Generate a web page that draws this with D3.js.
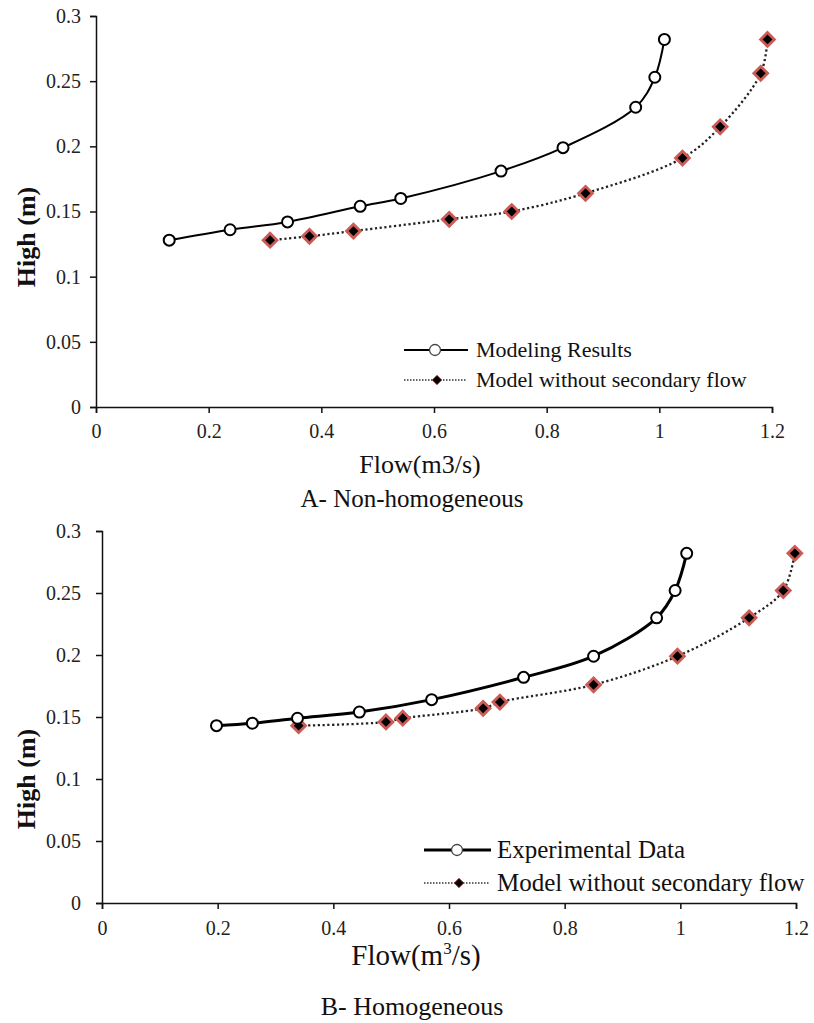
<!DOCTYPE html>
<html>
<head>
<meta charset="utf-8">
<script src="https://cdn.jsdelivr.net/npm/d3@7"></script>
<style>
html,body{margin:0;padding:0;background:#fff;}
svg{display:block;}
</style>
</head>
<body>
<svg id="chart" width="814" height="1023"></svg>
<script>
// ---------- data ----------
const xTicks = [0, 0.2, 0.4, 0.6, 0.8, 1, 1.2];
const yTicks = [0, 0.05, 0.1, 0.15, 0.2, 0.25, 0.3];

// Panel A – Non-homogeneous
const aModelX = [0.130, 0.238, 0.340, 0.469, 0.541, 0.719, 0.829, 0.958, 0.992, 1.009];
const aModelY = [0.128, 0.136, 0.142, 0.154, 0.160, 0.181, 0.199, 0.230, 0.253, 0.282];
const aNoSecX = [0.309, 0.379, 0.457, 0.627, 0.738, 0.869, 1.041, 1.108, 1.180, 1.192];
const aNoSecY = [0.128, 0.131, 0.135, 0.144, 0.150, 0.164, 0.191, 0.215, 0.256, 0.282];

// Panel B – Homogeneous
const bExpX = [0.198, 0.260, 0.338, 0.445, 0.570, 0.729, 0.850, 0.959, 0.991, 1.011];
const bExpY = [0.143, 0.145, 0.149, 0.154, 0.164, 0.182, 0.199, 0.230, 0.252, 0.282];
const bNoSecX = [0.340, 0.491, 0.520, 0.659, 0.688, 0.850, 0.995, 1.119, 1.178, 1.198];
const bNoSecY = [0.143, 0.146, 0.149, 0.157, 0.162, 0.176, 0.199, 0.230, 0.252, 0.282];

const aLegend = ["Modeling Results", "Model without secondary flow"];
const bLegend = ["Experimental Data", "Model without secondary flow"];
const aXTitle = "Flow(m3/s)";
const aCaption = "A- Non-homogeneous";
const bCaption = "B- Homogeneous";
const yTitle = "High (m)";

const SERIF = '"Liberation Serif", "Times New Roman", Tinos, serif';

// ---------- drawing ----------
const svg = d3.select("#chart");
const zip = (xs, ys) => xs.map((x, i) => ({x, y: ys[i]}));

function panel(cfg) {
  const g = svg.append("g");
  const x = d3.scaleLinear().domain([0, 1.2]).range([cfg.x0, cfg.x1]);
  const y = d3.scaleLinear().domain([0, 0.3]).range([cfg.y0, cfg.y1]);

  // axes
  const xa = g.append("g").attr("transform", `translate(0,${cfg.y0})`)
    .call(d3.axisBottom(x).tickValues(xTicks).tickFormat(d3.format("")).tickSizeOuter(0).tickSize(6).tickPadding(cfg.xPad));
  const ya = g.append("g").attr("transform", `translate(${cfg.x0},0)`)
    .call(d3.axisLeft(y).tickValues(yTicks).tickFormat(d3.format("")).tickSizeOuter(0).tickSize(6).tickPadding(cfg.yPad));
  [xa, ya].forEach(a => {
    a.attr("font-family", SERIF).attr("font-size", cfg.tickFont);
    a.select(".domain").attr("stroke", "#111").attr("stroke-width", 1.5);
    a.selectAll(".tick line").attr("stroke", "#111").attr("stroke-width", 1.5);
    a.selectAll(".tick text").style("font-family", SERIF).style("font-size", cfg.tickFont + "px").attr("fill", "#222");
  });

  const line = d3.line().x(d => x(d.x)).y(d => y(d.y)).curve(d3.curveCatmullRom.alpha(0.5));

  const s1 = zip(cfg.s1x, cfg.s1y), s2 = zip(cfg.s2x, cfg.s2y);

  g.append("path").datum(s2).attr("d", line).attr("fill", "none")
    .attr("stroke", "#222").attr("stroke-width", 2.3).attr("stroke-dasharray", "2.2,2.6");
  g.append("path").datum(s1).attr("d", line).attr("fill", "none")
    .attr("stroke", "#000").attr("stroke-width", cfg.solidW);

  const diamond = d3.symbol().type(d3.symbolSquare).size(95);
  g.selectAll(".dia").data(s2).join("path")
    .attr("d", diamond)
    .attr("transform", d => `translate(${x(d.x)},${y(d.y)}) rotate(45)`)
    .attr("fill", "#000").attr("stroke", "#cc5a55").attr("stroke-width", 2.8);
  g.selectAll(".circ").data(s1).join("circle")
    .attr("cx", d => x(d.x)).attr("cy", d => y(d.y)).attr("r", 5.5)
    .attr("fill", "#fff").attr("stroke", "#000").attr("stroke-width", 2);

  // legend
  const L = cfg.legend;
  g.append("line").attr("x1", L.lx0).attr("x2", L.lx1).attr("y1", L.y1).attr("y2", L.y1)
    .attr("stroke", "#000").attr("stroke-width", cfg.solidW);
  g.append("circle").attr("cx", L.cx).attr("cy", L.y1).attr("r", 5.5)
    .attr("fill", "#fff").attr("stroke", "#444").attr("stroke-width", 1.3);
  g.append("line").attr("x1", L.lx0).attr("x2", L.lx1 - 2).attr("y1", L.y2).attr("y2", L.y2)
    .attr("stroke", "#333").attr("stroke-width", 1.5).attr("stroke-dasharray", "1.5,1.5");
  g.append("path").attr("d", d3.symbol().type(d3.symbolSquare).size(45))
    .attr("transform", `translate(${L.cx + 2},${L.y2}) rotate(45)`)
    .attr("fill", "#000").attr("stroke", "#a33").attr("stroke-width", 0.8);
  g.append("text").attr("x", L.tx).attr("y", L.y1).attr("dy", "0.33em")
    .style("font-family", SERIF).attr("fill", "#111")
    .attr("font-size", L.font).text(cfg.legendText[0]);
  g.append("text").attr("x", L.tx).attr("y", L.y2).attr("dy", "0.33em")
    .style("font-family", SERIF).attr("fill", "#111")
    .attr("font-size", L.font).text(cfg.legendText[1]);

  // y title
  g.append("text").attr("transform", `translate(${cfg.yTitleX},${cfg.yTitleY}) rotate(-90)`)
    .style("font-family", SERIF).attr("fill", "#111")
    .attr("text-anchor", "middle").attr("font-weight", "bold").attr("font-size", 26)
    .text(yTitle);
  return {g, x, y};
}

const A = panel({
  x0: 96, x1: 772, y0: 407, y1: 16, xPad: 11, yPad: 9, tickFont: 20, solidW: 2,
  s1x: aModelX, s1y: aModelY, s2x: aNoSecX, s2y: aNoSecY,
  legendText: aLegend,
  legend: {lx0: 404, lx1: 468, cx: 435, y1: 350, y2: 380, tx: 476, font: 22},
  yTitleX: 35, yTitleY: 237
});
A.g.append("text").attr("x", 420).attr("y", 473).attr("text-anchor", "middle")
  .style("font-family", SERIF).attr("fill", "#111")
  .attr("font-size", 26).text(aXTitle);
A.g.append("text").attr("x", 412).attr("y", 507).attr("text-anchor", "middle")
  .style("font-family", SERIF).attr("fill", "#111")
  .attr("font-size", 25).text(aCaption);

const B = panel({
  x0: 102, x1: 796, y0: 903, y1: 531, xPad: 12, yPad: 15, tickFont: 20, solidW: 3,
  s1x: bExpX, s1y: bExpY, s2x: bNoSecX, s2y: bNoSecY,
  legendText: bLegend,
  legend: {lx0: 424, lx1: 491, cx: 457, y1: 850, y2: 883, tx: 497, font: 25},
  yTitleX: 35, yTitleY: 779
});
const bt = B.g.append("text").attr("x", 416).attr("y", 965).attr("text-anchor", "middle")
  .style("font-family", SERIF).attr("fill", "#111").attr("font-size", 29);
bt.append("tspan").text("Flow(m");
bt.append("tspan").attr("font-size", 17).attr("dy", -11).text("3");
bt.append("tspan").attr("dy", 11).text("/s)");
B.g.append("text").attr("x", 412).attr("y", 1015).attr("text-anchor", "middle")
  .style("font-family", SERIF).attr("fill", "#111")
  .attr("font-size", 26).text(bCaption);
</script>
</body>
</html>
